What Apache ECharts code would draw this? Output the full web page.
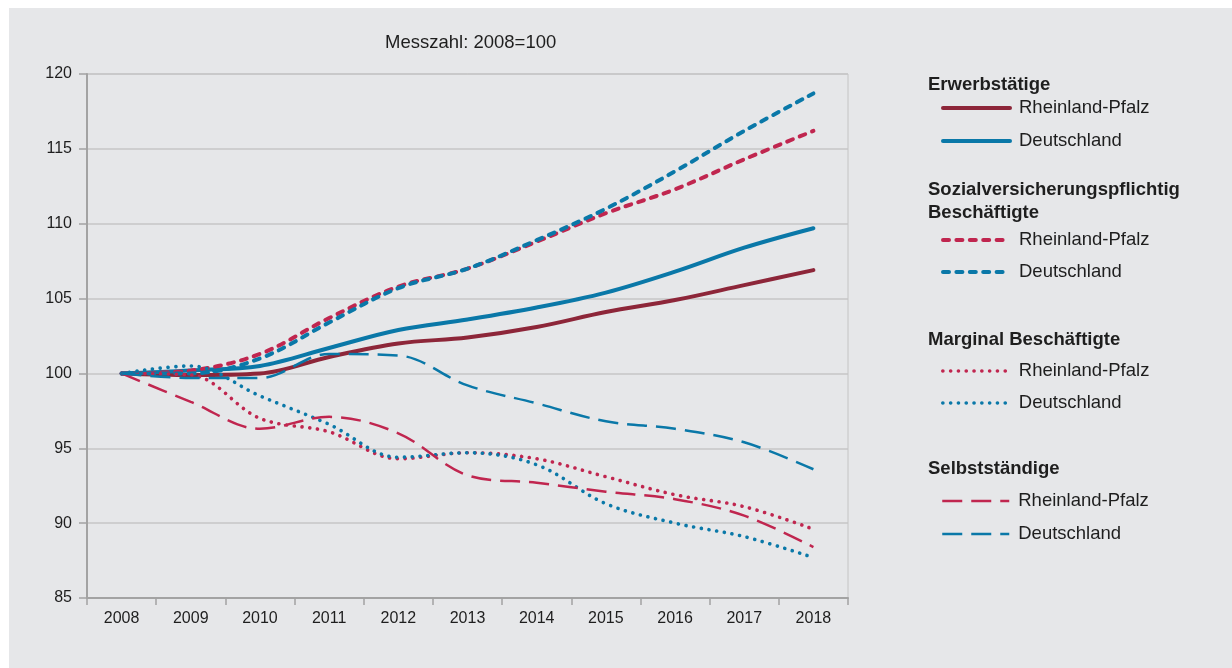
<!DOCTYPE html>
<html lang="de">
<head>
<meta charset="utf-8">
<title>Erwerbstätige und Beschäftigte 2008–2018</title>
<script src="https://cdn.jsdelivr.net/npm/echarts@6/dist/echarts.min.js"></script>
<style>
  html, body { margin: 0; padding: 0; background: #ffffff; }
  #wrap { position: relative; width: 1232px; height: 668px; overflow: hidden; }
  #panel { position: absolute; left: 9px; top: 8px; right: 0; bottom: 0; background: #e6e7e9; }
  #chart { position: absolute; left: 0; top: 0; width: 1232px; height: 668px; }
</style>
</head>
<body>
<div id="wrap">
  <div id="panel"></div>
  <div id="chart"></div>
</div>
<script>
// Index values, 2008 = 100
const years = ['2008', '2009', '2010', '2011', '2012', '2013', '2014', '2015', '2016', '2017', '2018'];

const erwerbstaetigeRP = [100, 99.9, 100.0, 101.1, 102.0, 102.4, 103.1, 104.1, 104.9, 105.9, 106.9];
const erwerbstaetigeD  = [100, 100.2, 100.5, 101.7, 102.9, 103.6, 104.4, 105.4, 106.8, 108.4, 109.7];

const svpRP = [100, 100.2, 101.3, 103.7, 105.8, 107.0, 108.8, 110.7, 112.3, 114.3, 116.2];
const svpD  = [100, 100.0, 101.0, 103.4, 105.7, 107.0, 108.9, 111.0, 113.5, 116.2, 118.7];

const marginalRP = [100, 99.9, 97.0, 96.1, 94.3, 94.7, 94.3, 93.1, 91.9, 91.1, 89.6];
const marginalD  = [100, 100.5, 98.5, 96.6, 94.4, 94.7, 93.9, 91.3, 90.0, 89.1, 87.7];

const selbststaendigeRP = [100, 98.1, 96.3, 97.1, 96.0, 93.2, 92.7, 92.1, 91.6, 90.5, 88.4];
const selbststaendigeD  = [100, 99.7, 99.7, 101.3, 101.2, 99.2, 98.0, 96.8, 96.3, 95.4, 93.6];

const yTicks = { min: 85, max: 120, interval: 5 };

const groupNames = ['Erwerbstätige', 'Sozialversicherungspflichtig\nBeschäftigte', 'Marginal Beschäftigte', 'Selbstständige'];
const regionNames = ['Rheinland-Pfalz', 'Deutschland'];

// colours
const DARK_RED = '#8d2639';
const CRIMSON = '#c0264f';
const BLUE = '#0a78a8';

const FONT = '"Liberation Sans", Arial, sans-serif';
const TEXT = '#1e1e1e';
const LEGEND_SIZE = 18.5;

const styles = {
  solid:  { width: 4, type: 'solid', cap: 'round' },
  dashed: { width: 4, type: [6, 7.4], cap: 'round' },
  dotted: { width: 3.6, type: [0.1, 7.7], cap: 'round' },
  long:   { width: 2.5, type: [20, 9], cap: 'butt' }
};

function mk(name, data, color, style) {
  return {
    name: name,
    type: 'line',
    data: data,
    smooth: 0.35,
    symbol: 'none',
    color: color,
    lineStyle: Object.assign({ color: color }, style),
    emphasis: { disabled: true },
    animation: false
  };
}

const series = [
  mk('Erwerbstätige|' + regionNames[0], erwerbstaetigeRP, DARK_RED, styles.solid),
  mk('Erwerbstätige|' + regionNames[1], erwerbstaetigeD, BLUE, styles.solid),
  mk('SVB|' + regionNames[0], svpRP, CRIMSON, styles.dashed),
  mk('SVB|' + regionNames[1], svpD, BLUE, styles.dashed),
  mk('Marginal|' + regionNames[0], marginalRP, CRIMSON, styles.dotted),
  mk('Marginal|' + regionNames[1], marginalD, BLUE, styles.dotted),
  mk('Selbst|' + regionNames[0], selbststaendigeRP, CRIMSON, styles.long),
  mk('Selbst|' + regionNames[1], selbststaendigeD, BLUE, styles.long)
];

// one legend entry per line, centred at these heights
const legendCentres = [108, 141, 240, 272, 371, 403, 501, 534];
const legends = series.map(function (s, i) {
  return {
    orient: 'vertical',
    left: 941,
    top: legendCentres[i] - 10,
    padding: 0,
    itemWidth: 67,
    itemHeight: 20,
    itemGap: 0,
    selectedMode: false,
    data: [s.name],
    itemStyle: { opacity: 0, borderWidth: 0 },
    lineStyle: { width: 'inherit', type: 'inherit', cap: 'inherit' },
    formatter: function (n) { return n.split('|')[1]; },
    textStyle: { fontFamily: FONT, fontSize: LEGEND_SIZE, color: TEXT, lineHeight: 20, padding: [0, 0, 0, 4] }
  };
});

const headerTops = [84, 200, 339, 468];
const headers = groupNames.map(function (g, i) {
  return {
    type: 'text',
    left: 928,
    top: headerTops[i] - (g.indexOf('\n') >= 0 ? 22 : 11),
    silent: true,
    style: {
      text: g,
      fontFamily: FONT,
      fontSize: LEGEND_SIZE,
      fontWeight: 'bold',
      fill: TEXT,
      lineHeight: 23
    }
  };
});

const chart = echarts.init(document.getElementById('chart'), null, { renderer: 'canvas' });
chart.setOption({
  backgroundColor: 'transparent',
  animation: false,
  grid: {
    left: 87, right: 384, top: 74, bottom: 70,
    show: true, borderColor: '#c4c4c4', borderWidth: 1, backgroundColor: 'transparent'
  },
  graphic: [
    {
      type: 'text',
      left: 385,
      top: 33,
      silent: true,
      style: { text: 'Messzahl: 2008=100', fontFamily: FONT, fontSize: LEGEND_SIZE, fill: TEXT }
    }
  ].concat(headers),
  legend: legends,
  xAxis: {
    type: 'category',
    data: years,
    boundaryGap: true,
    axisLine: { lineStyle: { color: '#a3a3a3', width: 2 } },
    axisTick: { show: true, length: 7, lineStyle: { color: '#a3a3a3', width: 1.5 } },
    axisLabel: { fontFamily: FONT, fontSize: 16, color: TEXT, margin: 13 },
    splitLine: { show: false }
  },
  yAxis: {
    type: 'value',
    min: yTicks.min,
    max: yTicks.max,
    interval: yTicks.interval,
    axisLine: { show: true, lineStyle: { color: '#a3a3a3', width: 2 } },
    axisTick: { show: true, inside: false, length: 8, lineStyle: { color: '#a3a3a3', width: 1.5 } },
    axisLabel: { fontFamily: FONT, fontSize: 16, color: TEXT, margin: 15 },
    splitLine: { show: true, lineStyle: { color: '#c6c6c6', width: 1.5 } }
  },
  series: series
});
</script>
</body>
</html>
